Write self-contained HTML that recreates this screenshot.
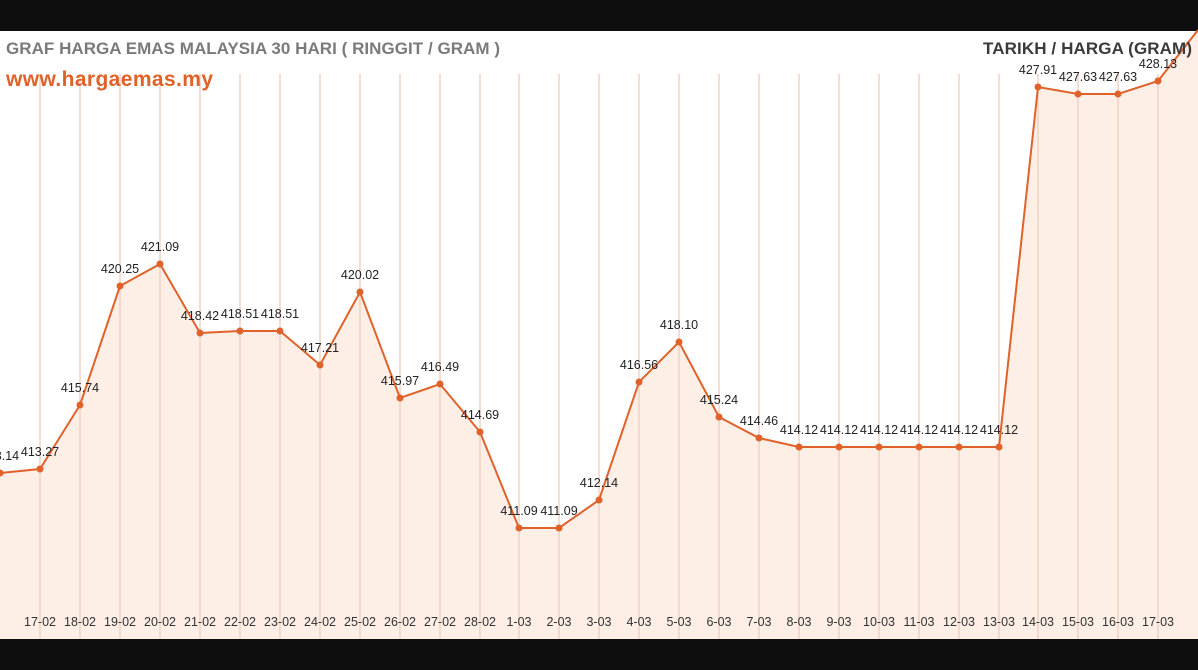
<!DOCTYPE html>
<html><head><meta charset="utf-8"><style>
html,body{margin:0;padding:0;background:#0e0e0e;width:1198px;height:670px;overflow:hidden}
svg{display:block;font-family:"Liberation Sans",Arial,sans-serif}
</style></head><body>
<svg width="1198" height="670" viewBox="0 0 1198 670">
<rect x="0" y="0" width="1198" height="670" fill="#0e0e0e"/>
<rect x="0" y="31" width="1198" height="608" fill="#ffffff"/>
<polygon fill="#fdeee6" points="0,473 40,469 80,405 120,286 160,264 200,333 240,331 280,331 320,365 360,292 400,398 440,384 480,432 519,528 559,528 599,500 639,382 679,342 719,417 759,438 799,447 839,447 879,447 919,447 959,447 999,447 1038,87 1078,94 1118,94 1158,81 1198,30 1198,639 0,639"/>
<g stroke="#f0d2c4" stroke-width="1.5">
<line x1="40" y1="74" x2="40" y2="639"/><line x1="80" y1="74" x2="80" y2="639"/><line x1="120" y1="74" x2="120" y2="639"/><line x1="160" y1="74" x2="160" y2="639"/><line x1="200" y1="74" x2="200" y2="639"/><line x1="240" y1="74" x2="240" y2="639"/><line x1="280" y1="74" x2="280" y2="639"/><line x1="320" y1="74" x2="320" y2="639"/><line x1="360" y1="74" x2="360" y2="639"/><line x1="400" y1="74" x2="400" y2="639"/><line x1="440" y1="74" x2="440" y2="639"/><line x1="480" y1="74" x2="480" y2="639"/><line x1="519" y1="74" x2="519" y2="639"/><line x1="559" y1="74" x2="559" y2="639"/><line x1="599" y1="74" x2="599" y2="639"/><line x1="639" y1="74" x2="639" y2="639"/><line x1="679" y1="74" x2="679" y2="639"/><line x1="719" y1="74" x2="719" y2="639"/><line x1="759" y1="74" x2="759" y2="639"/><line x1="799" y1="74" x2="799" y2="639"/><line x1="839" y1="74" x2="839" y2="639"/><line x1="879" y1="74" x2="879" y2="639"/><line x1="919" y1="74" x2="919" y2="639"/><line x1="959" y1="74" x2="959" y2="639"/><line x1="999" y1="74" x2="999" y2="639"/><line x1="1038" y1="74" x2="1038" y2="639"/><line x1="1078" y1="74" x2="1078" y2="639"/><line x1="1118" y1="74" x2="1118" y2="639"/><line x1="1158" y1="74" x2="1158" y2="639"/>
</g>
<polyline fill="none" stroke="#e0622a" stroke-width="2" points="0,473 40,469 80,405 120,286 160,264 200,333 240,331 280,331 320,365 360,292 400,398 440,384 480,432 519,528 559,528 599,500 639,382 679,342 719,417 759,438 799,447 839,447 879,447 919,447 959,447 999,447 1038,87 1078,94 1118,94 1158,81 1198,30"/>
<g fill="#e0622a">
<circle cx="0" cy="473" r="3.5"/><circle cx="40" cy="469" r="3.5"/><circle cx="80" cy="405" r="3.5"/><circle cx="120" cy="286" r="3.5"/><circle cx="160" cy="264" r="3.5"/><circle cx="200" cy="333" r="3.5"/><circle cx="240" cy="331" r="3.5"/><circle cx="280" cy="331" r="3.5"/><circle cx="320" cy="365" r="3.5"/><circle cx="360" cy="292" r="3.5"/><circle cx="400" cy="398" r="3.5"/><circle cx="440" cy="384" r="3.5"/><circle cx="480" cy="432" r="3.5"/><circle cx="519" cy="528" r="3.5"/><circle cx="559" cy="528" r="3.5"/><circle cx="599" cy="500" r="3.5"/><circle cx="639" cy="382" r="3.5"/><circle cx="679" cy="342" r="3.5"/><circle cx="719" cy="417" r="3.5"/><circle cx="759" cy="438" r="3.5"/><circle cx="799" cy="447" r="3.5"/><circle cx="839" cy="447" r="3.5"/><circle cx="879" cy="447" r="3.5"/><circle cx="919" cy="447" r="3.5"/><circle cx="959" cy="447" r="3.5"/><circle cx="999" cy="447" r="3.5"/><circle cx="1038" cy="87" r="3.5"/><circle cx="1078" cy="94" r="3.5"/><circle cx="1118" cy="94" r="3.5"/><circle cx="1158" cy="81" r="3.5"/>
</g>
<g font-size="12.5" fill="#222" text-anchor="middle">
<text x="0" y="460">413.14</text><text x="40" y="456">413.27</text><text x="80" y="392">415.74</text><text x="120" y="273">420.25</text><text x="160" y="251">421.09</text><text x="200" y="320">418.42</text><text x="240" y="318">418.51</text><text x="280" y="318">418.51</text><text x="320" y="352">417.21</text><text x="360" y="279">420.02</text><text x="400" y="385">415.97</text><text x="440" y="371">416.49</text><text x="480" y="419">414.69</text><text x="519" y="515">411.09</text><text x="559" y="515">411.09</text><text x="599" y="487">412.14</text><text x="639" y="369">416.56</text><text x="679" y="329">418.10</text><text x="719" y="404">415.24</text><text x="759" y="425">414.46</text><text x="799" y="434">414.12</text><text x="839" y="434">414.12</text><text x="879" y="434">414.12</text><text x="919" y="434">414.12</text><text x="959" y="434">414.12</text><text x="999" y="434">414.12</text><text x="1038" y="74">427.91</text><text x="1078" y="81">427.63</text><text x="1118" y="81">427.63</text><text x="1158" y="68">428.13</text>
</g>
<g font-size="12.5" fill="#333" text-anchor="middle">
<text x="40" y="626">17-02</text><text x="80" y="626">18-02</text><text x="120" y="626">19-02</text><text x="160" y="626">20-02</text><text x="200" y="626">21-02</text><text x="240" y="626">22-02</text><text x="280" y="626">23-02</text><text x="320" y="626">24-02</text><text x="360" y="626">25-02</text><text x="400" y="626">26-02</text><text x="440" y="626">27-02</text><text x="480" y="626">28-02</text><text x="519" y="626">1-03</text><text x="559" y="626">2-03</text><text x="599" y="626">3-03</text><text x="639" y="626">4-03</text><text x="679" y="626">5-03</text><text x="719" y="626">6-03</text><text x="759" y="626">7-03</text><text x="799" y="626">8-03</text><text x="839" y="626">9-03</text><text x="879" y="626">10-03</text><text x="919" y="626">11-03</text><text x="959" y="626">12-03</text><text x="999" y="626">13-03</text><text x="1038" y="626">14-03</text><text x="1078" y="626">15-03</text><text x="1118" y="626">16-03</text><text x="1158" y="626">17-03</text>
</g>
<text x="6" y="54" font-size="17" font-weight="bold" fill="#7a7a7a" textLength="494">GRAF HARGA EMAS MALAYSIA 30 HARI ( RINGGIT / GRAM )</text>
<text x="6" y="86" font-size="21" font-weight="bold" fill="#e0622a" textLength="207">www.hargaemas.my</text>
<text x="983" y="54" font-size="17" font-weight="bold" fill="#3a3a3a" textLength="209">TARIKH / HARGA (GRAM)</text>
</svg>
</body></html>
